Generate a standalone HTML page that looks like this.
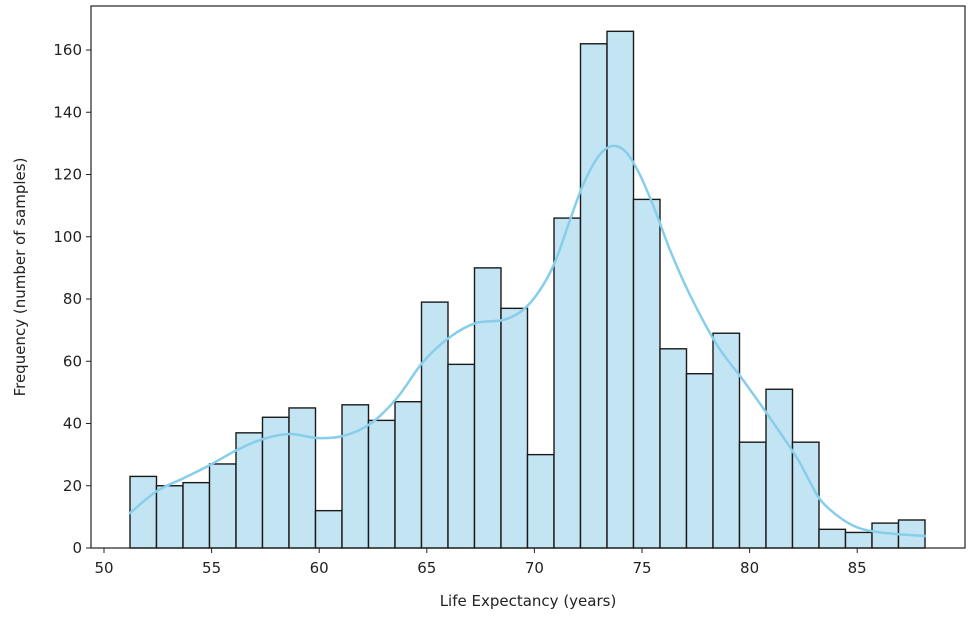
<!DOCTYPE html>
<html><head><meta charset="utf-8"><style>
html,body{margin:0;padding:0;background:#fff;width:975px;height:621px;overflow:hidden}
text{font-family:"DejaVu Sans","Liberation Sans",sans-serif;font-size:15px;fill:#222}
</style></head><body>
<svg id="s" width="975" height="621" xmlns="http://www.w3.org/2000/svg">
<g id="bars"></g>
<path id="kde" fill="none" stroke="#87ceeb" stroke-width="2.5" stroke-linejoin="round" stroke-linecap="round"/>
<rect x="91" y="6" width="874" height="542" fill="none" stroke="#222" stroke-width="1.2"/>
<g id="ticks"></g>
<text x="528" y="606" text-anchor="middle">Life Expectancy (years)</text>
<text transform="translate(25,277) rotate(-90)" text-anchor="middle">Frequency (number of samples)</text>
</svg>
<script>
var h=[23,20,21,27,37,42,45,12,46,41,47,79,59,90,77,30,106,162,166,112,64,56,69,34,51,34,6,5,8,9];
var ns="http://www.w3.org/2000/svg",b=document.getElementById('bars'),t=document.getElementById('ticks');
function Y(v){return 548-v*3.1125}
function X(v){return 104+(v-50)*21.52}
var x0=130,w=26.5;
h.forEach(function(v,i){var r=document.createElementNS(ns,'rect');r.setAttribute('x',x0+i*w);r.setAttribute('y',Y(v));r.setAttribute('width',w);r.setAttribute('height',v*3.1125);r.setAttribute('fill','#c3e4f2');r.setAttribute('stroke','#1a1a1a');r.setAttribute('stroke-width','1.4');b.appendChild(r);});
var s='';
for(var v=0;v<=160;v+=20){var y=Y(v);s+='<line x1="86" x2="91" y1="'+y+'" y2="'+y+'" stroke="#222"/><text x="82" y="'+(y+5)+'" text-anchor="end">'+v+'</text>';}
for(var v=50;v<=85;v+=5){var x=X(v);s+='<line x1="'+x+'" x2="'+x+'" y1="548" y2="553" stroke="#222"/><text x="'+x+'" y="573" text-anchor="middle">'+v+'</text>';}
t.innerHTML=s;
var p=[[130,513],[157,491],[184,478],[210,465],[237,450],[263,439],[290,434],[317,438],[343,436],[370,424],[397,398],[423,362],[450,337],[476,323],[503,320],[523,310],[540,290],[555,262],[570,220],[583,185],[598,157],[612,146],[626,152],[640,175],[655,210],[670,250],[690,295],[717,345],[743,380],[770,418],[797,458],[810,482],[823,503],[850,524],[877,532],[925,536]];
// catmull-rom
var d='M'+p[0];
for(var i=0;i<p.length-1;i++){var a=p[i-1]||p[i],b1=p[i],c=p[i+1],e=p[i+2]||c;
d+=' C'+(b1[0]+(c[0]-a[0])/6)+','+(b1[1]+(c[1]-a[1])/6)+' '+(c[0]-(e[0]-b1[0])/6)+','+(c[1]-(e[1]-b1[1])/6)+' '+c[0]+','+c[1];}
document.getElementById('kde').setAttribute('d',d);
</script>
</body></html>
